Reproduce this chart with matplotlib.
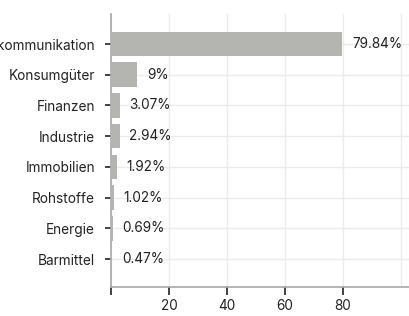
import matplotlib
matplotlib.use('Agg')
import matplotlib.pyplot as plt

categories = ['Telekommunikation', 'Konsumgüter', 'Finanzen', 'Industrie',
              'Immobilien', 'Rohstoffe', 'Energie', 'Barmittel']
values = [79.84, 9, 3.07, 2.94, 1.92, 1.02, 0.69, 0.47]
value_labels = ['79.84%', '9%', '3.07%', '2.94%', '1.92%', '1.02%', '0.69%', '0.47%']
x_ticks = [0, 20, 40, 60, 80]
x_tick_labels = ['', '20', '40', '60', '80']

plt.rcParams['font.family'] = ['Inter', 'DejaVu Sans']
text_color = '#222222'
grid_color = '#ebebeb'
spine_color = '#a8a8a8'
fs = 9.8

fig = plt.figure(figsize=(4.09, 3.16), dpi=100)
ax = fig.add_axes([111 / 409, 29 / 316, 298 / 409, 273 / 316])

y = list(range(len(categories)))
ax.barh(y, values, height=0.8, color='#b4b4b0', zorder=3)

for yi, v, lab in zip(y, values, value_labels):
    ax.annotate(lab, (v, yi), xytext=(7, 0), textcoords='offset points',
                va='center', ha='left', fontsize=fs, color=text_color)

ax.set_yticks(y)
ax.set_yticklabels(categories)
ax.set_xticks(x_ticks)
ax.set_xticklabels(x_tick_labels)
ax.set_xlim(0, 102.8)
ax.set_ylim(7.91, -0.977)

ax.grid(True, color=grid_color, linewidth=1, zorder=0)
ax.axvline(100, color=grid_color, linewidth=1, zorder=0)

for s in ['top', 'right']:
    ax.spines[s].set_visible(False)
for s in ['left', 'bottom']:
    ax.spines[s].set_color(spine_color)
    ax.spines[s].set_linewidth(1.2)

ax.tick_params(axis='y', length=4.5, width=1.2, color=text_color, pad=7,
               labelsize=fs, labelcolor=text_color)
ax.tick_params(axis='x', length=6, width=1.2, color=text_color, pad=3,
               labelsize=fs, labelcolor=text_color)

fig.savefig('out.png', dpi=100)
